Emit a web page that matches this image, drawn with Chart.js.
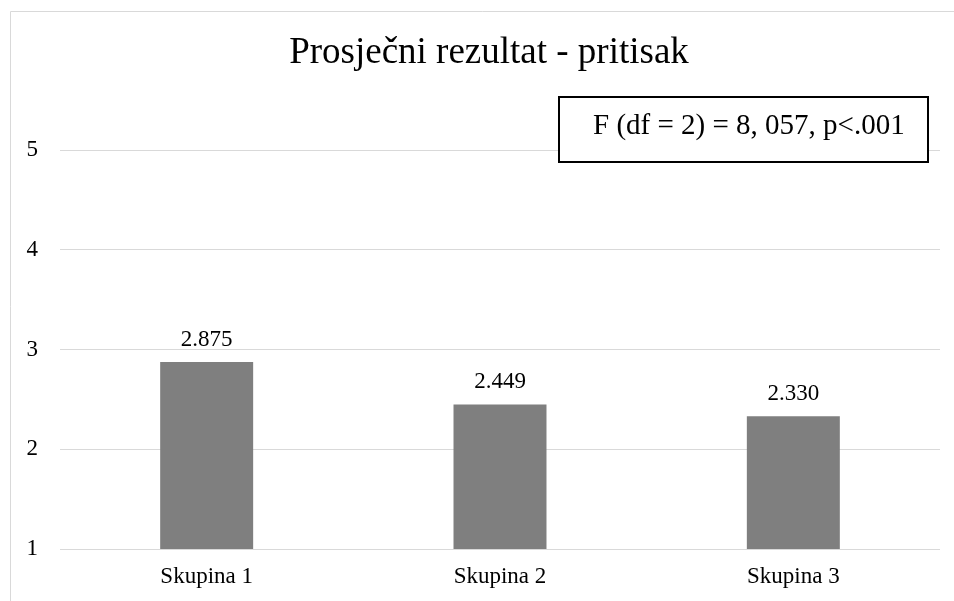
<!DOCTYPE html>
<html>
<head>
  <meta charset="utf-8">
  <title>Prosječni rezultat - pritisak</title>
  <script src="https://cdn.jsdelivr.net/npm/chart.js"></script>
  <style>
    html, body { margin: 0; padding: 0; background: #fff; }
    #wrap { width: 954px; height: 601px; }
  </style>
</head>
<body>
  <div id="wrap"><canvas id="barChart" width="954" height="601"></canvas></div>

  <script>
    const categories = ['Skupina 1', 'Skupina 2', 'Skupina 3'];
    const means = [2.875, 2.449, 2.330];
    const yTicks = [1, 2, 3, 4, 5];
    const chartTitle = 'Prosječni rezultat - pritisak';
    const statText = 'F (df = 2) = 8, 057, p<.001';

    const serif = "'Liberation Serif', 'Times New Roman', serif";

    // light frame round the chart (left and top edges are visible) + title
    const framePlugin = {
      id: 'frame',
      beforeDraw(chart) {
        const ctx = chart.ctx;
        ctx.save();
        ctx.strokeStyle = '#d9d9d9';
        ctx.lineWidth = 1;
        ctx.beginPath();
        ctx.moveTo(10.5, 601);
        ctx.lineTo(10.5, 11.5);
        ctx.lineTo(954, 11.5);
        ctx.stroke();

        // title sits centred on the original (wider) frame
        ctx.font = '37px ' + serif;
        ctx.fillStyle = '#000';
        ctx.textAlign = 'center';
        ctx.textBaseline = 'alphabetic';
        ctx.fillText(chartTitle, 489, 63);
        ctx.restore();
      }
    };

    // value labels above the bars
    const valueLabels = {
      id: 'valueLabels',
      afterDatasetsDraw(chart) {
        const ctx = chart.ctx;
        const meta = chart.getDatasetMeta(0);
        ctx.save();
        ctx.font = '23px ' + serif;
        ctx.fillStyle = '#000';
        ctx.textAlign = 'center';
        ctx.textBaseline = 'alphabetic';
        meta.data.forEach((bar, i) => {
          ctx.fillText(means[i].toFixed(3), bar.x, bar.y - 16);
        });
        ctx.restore();
      }
    };

    // boxed test statistic, top right
    const statBox = {
      id: 'statBox',
      afterDraw(chart) {
        const ctx = chart.ctx;
        ctx.save();
        ctx.fillStyle = '#fff';
        ctx.fillRect(558, 96, 371, 66);
        ctx.strokeStyle = '#000';
        ctx.lineWidth = 2;
        ctx.strokeRect(559, 97, 369, 65);
        ctx.font = '29px ' + serif;
        ctx.fillStyle = '#000';
        ctx.textAlign = 'left';
        ctx.textBaseline = 'alphabetic';
        ctx.fillText(statText, 593, 134);
        ctx.restore();
      }
    };

    const ctx = document.getElementById('barChart').getContext('2d');
    new Chart(ctx, {
      type: 'bar',
      data: {
        labels: categories,
        datasets: [{
          data: means,
          backgroundColor: '#7f7f7f',
          borderWidth: 0,
          barPercentage: 0.317,
          categoryPercentage: 1
        }]
      },
      options: {
        responsive: false,
        animation: false,
        layout: { padding: { left: 0, right: 14, top: 150, bottom: 0 } },
        plugins: {
          legend: { display: false },
          tooltip: { enabled: false },
          title: { display: false }
        },
        scales: {
          x: {
            grid: { display: false, drawTicks: false },
            border: { display: false },
            ticks: {
              color: '#000',
              padding: 14,
              font: { family: serif, size: 23 }
            },
            afterFit(scale) { scale.height = 52; }
          },
          y: {
            min: yTicks[0],
            max: yTicks[yTicks.length - 1],
            grid: { color: '#d9d9d9', lineWidth: 1, drawTicks: false },
            border: { display: false },
            ticks: {
              stepSize: 1,
              color: '#000',
              padding: 22,
              font: { family: serif, size: 23 }
            },
            afterFit(scale) { scale.width = 60; }
          }
        }
      },
      plugins: [framePlugin, valueLabels, statBox]
    });
  </script>
</body>
</html>
